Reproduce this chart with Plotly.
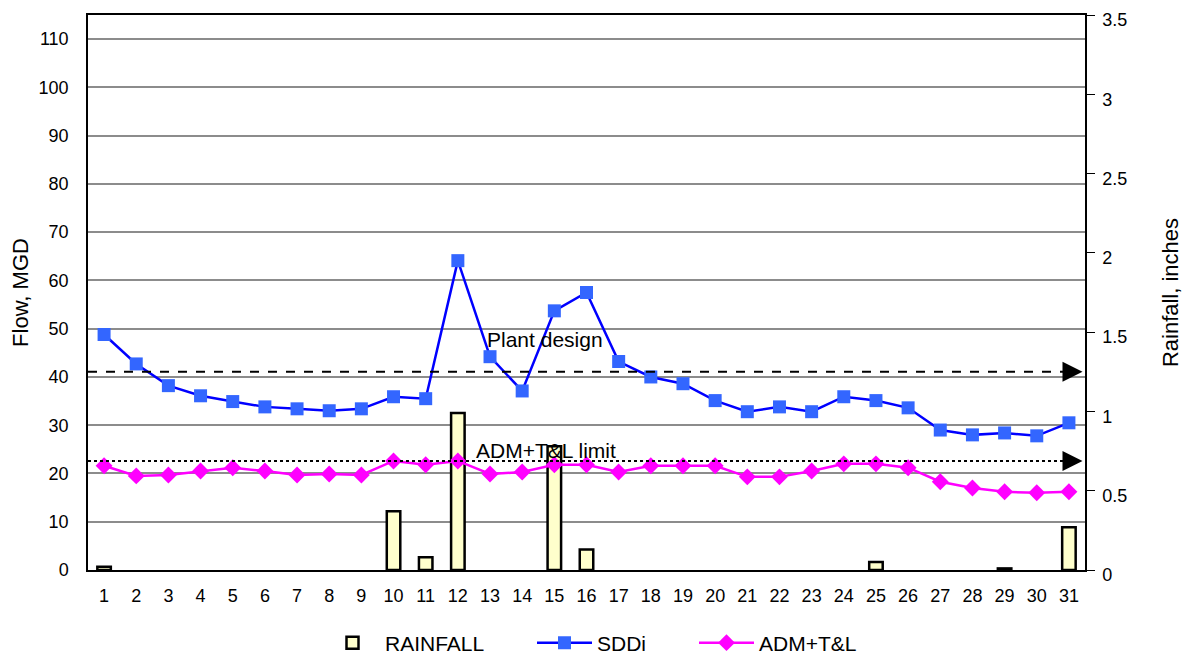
import plotly.graph_objects as go

days = list(range(1, 32))
sddi = [48.8, 42.7, 38.2, 36.1, 34.9, 33.8, 33.4, 33.0, 33.4, 35.9,
        35.5, 64.1, 44.2, 37.1, 53.7, 57.5, 43.2, 40.0, 38.6, 35.1,
        32.8, 33.8, 32.8, 35.9, 35.1, 33.6, 29.0, 28.0, 28.4, 27.8, 30.5]
adm_tl = [21.6, 19.5, 19.7, 20.5, 21.2, 20.5, 19.7, 19.9, 19.7, 22.6,
          21.8, 22.6, 19.9, 20.3, 21.8, 21.8, 20.3, 21.6, 21.6, 21.6,
          19.3, 19.3, 20.5, 22.0, 22.0, 21.2, 18.3, 17.0, 16.2, 16.0, 16.2]
# None = no rain recorded that day
rainfall = [0.02, None, None, None, None, None, None, None, None, 0.37,
            0.08, 0.99, None, None, 0.78, 0.13, None, None, None, None,
            None, None, None, None, 0.05, None, None, None, 0.01, None, 0.27]
plant_design = 41.1
adm_limit = 22.6

FONT = "Liberation Sans, Arial, sans-serif"

fig = go.Figure()
fig.add_trace(go.Bar(
    x=days, y=rainfall, name="RAINFALL", yaxis="y", width=0.42,
    marker=dict(color="#FFFFCC", line=dict(color="black", width=2.5)),
    legendwidth=142,
))
fig.add_trace(go.Scatter(
    x=days, y=sddi, name="SDDi", yaxis="y2", mode="lines+markers",
    line=dict(color="#0000FF", width=2.5),
    marker=dict(symbol="square", size=13, color="#3366FF",
                line=dict(color="#3366FF", width=0)),
    legendwidth=92,
))
fig.add_trace(go.Scatter(
    x=days, y=adm_tl, name="ADM+T&L", yaxis="y2", mode="lines+markers",
    line=dict(color="#FF00FF", width=2.5),
    marker=dict(symbol="diamond", size=13, color="#FF00FF"),
    legendwidth=100,
))

shapes = [
    dict(type="line", xref="paper", yref="y2", x0=0, x1=0.99,
         y0=plant_design, y1=plant_design,
         line=dict(color="black", width=2, dash="dash"), layer="above"),
    dict(type="line", xref="paper", yref="y2", x0=0, x1=0.99,
         y0=adm_limit, y1=adm_limit,
         line=dict(color="black", width=2, dash="dot"), layer="above"),
]
annotations = [
    dict(xref="paper", yref="y2", x=0.9975, y=plant_design, ax=-14, ay=0,
         showarrow=True, arrowhead=2, arrowsize=1.6, arrowwidth=2.5,
         arrowcolor="black", text=""),
    dict(xref="paper", yref="y2", x=0.9975, y=adm_limit, ax=-14, ay=0,
         showarrow=True, arrowhead=2, arrowsize=1.6, arrowwidth=2.5,
         arrowcolor="black", text=""),
    dict(xref="paper", yref="y2", x=0.4584, y=plant_design, yanchor="bottom",
         yshift=19, showarrow=False, text="Plant design",
         font=dict(size=21, color="black", family=FONT)),
    dict(xref="paper", yref="y2", x=0.4594, y=adm_limit, yanchor="bottom",
         yshift=-3, showarrow=False, text="ADM+T&L limit",
         font=dict(size=21, color="black", family=FONT)),
]

fig.update_layout(
    width=1189, height=700,
    margin=dict(l=80, r=112, t=7, b=138),
    paper_bgcolor="white", plot_bgcolor="white",
    font=dict(family=FONT, size=18, color="black"),
    showlegend=True,
    legend=dict(orientation="h", x=0.2327, xanchor="left", y=-0.1315,
                yanchor="middle", font=dict(size=21), traceorder="normal",
                itemwidth=55),
    bargap=0.5,
    xaxis=dict(range=[0.5, 31.5], tickmode="array", tickvals=days,
               ticktext=[str(d) for d in days], showgrid=False,
               showline=True, linecolor="black", linewidth=1.5, mirror=True,
               ticks="", tickfont=dict(size=18), zeroline=False,
               ticklabelstandoff=9, automargin=False),
    yaxis=dict(range=[0, 3.5], side="right", dtick=0.5, showgrid=False,
               showline=True, linecolor="black", linewidth=1.5,
               ticks="outside", ticklen=8, tickcolor="black",
               tickfont=dict(size=18), zeroline=False, automargin=False,
               ticklabelstandoff=4, ticklabeloverflow="allow",
               ticklabelshift=5,
               title=dict(text="Rainfall, inches", font=dict(size=22),
                          standoff=36)),
    yaxis2=dict(range=[0, 115], side="left", overlaying="y",
                tickvals=list(range(0, 111, 10)),
                showgrid=True, gridcolor="#8C8C8C", gridwidth=1.5,
                showline=True, linecolor="black", linewidth=1.5,
                ticks="", tickfont=dict(size=18), zeroline=False,
                automargin=False, ticklabelstandoff=14,
                ticklabeloverflow="allow",
                title=dict(text="Flow, MGD", font=dict(size=22), standoff=6)),
    shapes=shapes, annotations=annotations,
)

fig.write_html("out.html")
